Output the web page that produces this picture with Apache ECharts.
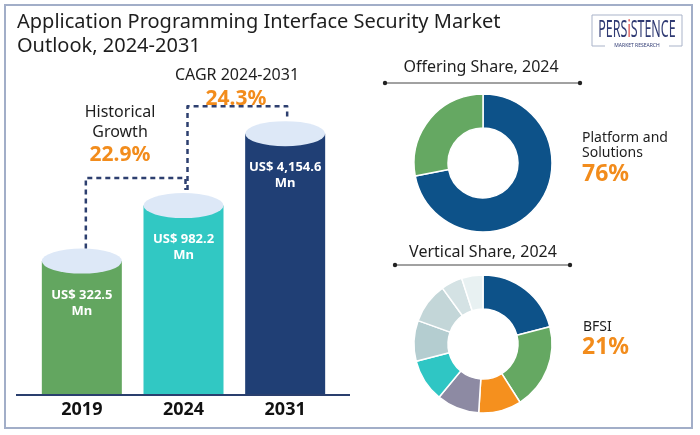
<!DOCTYPE html>
<html>
<head>
<meta charset="utf-8">
<script src="https://cdn.jsdelivr.net/npm/echarts@6/dist/echarts.min.js"></script>
<style>html,body{margin:0;padding:0;background:#fff;}#c{width:700px;height:435px;}</style>
</head>
<body>
<div id="c"></div>
<script>
// ---- data ----
const years = ['2019', '2024', '2031'];
const marketValues = [322.5, 982.2, 4154.6];
const valueLabels = ['US$ 322.5\nMn', 'US$ 982.2\nMn', 'US$ 4,154.6\nMn'];
const barColors = ['#63a660', '#31c8c3', '#203f75'];
const historicalGrowth = '22.9%';
const cagr = '24.3%';
const offeringNames = ['Platform and Solutions', 'Services'];
const offeringShares = [72, 28];
const offeringColors = ['#0d5289', '#65a862'];
const offeringHighlight = ['Platform and', 'Solutions', '76%'];
const verticalNames = ['BFSI', 'IT and Telecom', 'Retail', 'Healthcare', 'Government', 'Manufacturing', 'Energy', 'Education', 'Others'];
const verticalShares = [21, 20, 10, 10, 10, 9.5, 9.5, 5, 5];
const verticalColors = ['#0d5289', '#65a862', '#f5901e', '#8d8aa3', '#2fc6c4', '#b4cdd0', '#c3d6d8', '#d4e2e4', '#e8f1f2'];
const verticalHighlight = ['BFSI', '21%'];

const FONT = "'Noto Sans', sans-serif";
const ORANGE = '#f28c1c';
const NAVY = '#2d3f6f';

const chart = echarts.init(document.getElementById('c'), null, {renderer: 'canvas'});

function txt(x, y, text, size, opts) {
  opts = opts || {};
  return {
    type: 'text', x: x, y: y, z: 10,
    style: {
      text: text,
      font: (opts.weight || 'normal') + ' ' + size + 'px ' + (opts.family || FONT),
      fill: opts.color || '#1e1e1e',
      textAlign: opts.align || 'left',
      textVerticalAlign: 'middle'
    }
  };
}

const ellipsePath = 'path://M0,50 A50,50 0 1,1 100,50 A50,50 0 1,1 0,50 Z';

const staticGraphics = [
  {type: 'rect', shape: {x: 5, y: 5, width: 687, height: 423}, style: {fill: 'none', stroke: '#a2aec8', lineWidth: 2}, z: 1},
  txt(17, 22, 'Application Programming Interface Security Market', 20),
  txt(17, 46, 'Outlook, 2024-2031', 20),
  // logo
  {type: 'polyline', shape: {points: [[605, 46], [592, 46], [592, 15], [682, 15], [682, 46], [669, 46]]}, style: {fill: 'none', stroke: '#a9b3c9', lineWidth: 1}, z: 10},
  {type: 'group', x: 637, y: 30, scaleX: 0.52, z: 10, children: [
    {type: 'text', x: 0, y: 0, z: 10,
      style: {text: '{a|PERS}{b|i}{a|STENCE}', textAlign: 'center', textVerticalAlign: 'middle',
        rich: {a: {fontSize: 24, fontFamily: FONT, fill: '#2f3a73'}, b: {fontSize: 24, fontFamily: FONT, fill: '#d93a34'}}}}
  ]},
  txt(637, 46, 'MARKET RESEARCH', 5, {align: 'center', color: '#2f3a73'}),
  // annotations
  txt(120, 112, 'Historical', 16, {align: 'center'}),
  txt(120, 132, 'Growth', 16, {align: 'center'}),
  txt(120, 155, historicalGrowth, 21, {align: 'center', weight: 'bold', color: ORANGE}),
  txt(237, 75, 'CAGR 2024-2031', 16, {align: 'center'}),
  txt(236, 99, cagr, 21, {align: 'center', weight: 'bold', color: ORANGE}),
  // axis baseline
  {type: 'line', shape: {x1: 16, y1: 395, x2: 350, y2: 395}, style: {stroke: '#2a3f6e', lineWidth: 2}, z: 5},
  // section headers
  txt(481, 67, 'Offering Share, 2024', 16, {align: 'center'}),
  {type: 'line', shape: {x1: 385, y1: 83, x2: 580, y2: 83}, style: {stroke: '#444', lineWidth: 1}, z: 5},
  {type: 'circle', shape: {cx: 385, cy: 83, r: 2.2}, style: {fill: '#222'}, z: 5},
  {type: 'circle', shape: {cx: 580, cy: 83, r: 2.2}, style: {fill: '#222'}, z: 5},
  txt(483, 252, 'Vertical Share, 2024', 16, {align: 'center'}),
  {type: 'line', shape: {x1: 395, y1: 265, x2: 570, y2: 265}, style: {stroke: '#444', lineWidth: 1}, z: 5},
  {type: 'circle', shape: {cx: 395, cy: 265, r: 2.2}, style: {fill: '#222'}, z: 5},
  {type: 'circle', shape: {cx: 570, cy: 265, r: 2.2}, style: {fill: '#222'}, z: 5},
  // highlights
  txt(582, 138, offeringHighlight[0], 14),
  txt(582, 153, offeringHighlight[1], 14),
  txt(582, 174, offeringHighlight[2], 23, {weight: 'bold', color: ORANGE}),
  txt(583, 327, verticalHighlight[0], 14),
  txt(582, 347, verticalHighlight[1], 23, {weight: 'bold', color: ORANGE})
];

const option = {
  animation: false,
  backgroundColor: '#ffffff',
  grid: {left: 31, right: 364, top: 101, bottom: 40},
  xAxis: {
    type: 'category', data: years,
    axisLine: {show: false}, axisTick: {show: false},
    axisLabel: {fontFamily: FONT, fontWeight: 'bold', fontSize: 18, color: '#111', margin: 6}
  },
  yAxis: {type: 'log', logBase: 10, min: 22, max: 8000, show: false, splitLine: {show: false}},
  series: [
    {
      type: 'bar', barWidth: 80, z: 2,
      data: marketValues.map((v, i) => ({value: v, itemStyle: {color: barColors[i]},
        label: {formatter: valueLabels[i]}})),
      label: {show: true, position: 'insideTop', distance: 26, color: '#fff', fontFamily: FONT,
        fontWeight: 'bold', fontSize: 13, lineHeight: 16, align: 'center'}
    },
    {
      type: 'scatter', z: 3, symbol: ellipsePath, symbolKeepAspect: false, symbolSize: [80, 25],
      itemStyle: {color: '#dde8f7', opacity: 1},
      data: marketValues, silent: true
    },
    {
      type: 'pie', center: [483, 163], radius: [35, 69], startAngle: 90, clockwise: true,
      label: {show: false}, labelLine: {show: false}, silent: true,
      itemStyle: {borderColor: '#fff', borderWidth: 1.5},
      data: offeringShares.map((v, i) => ({name: offeringNames[i], value: v, itemStyle: {color: offeringColors[i]}}))
    },
    {
      type: 'pie', center: [483, 344], radius: [35, 69], startAngle: 90, clockwise: true,
      label: {show: false}, labelLine: {show: false}, silent: true,
      itemStyle: {borderColor: '#fff', borderWidth: 1.5},
      data: verticalShares.map((v, i) => ({name: verticalNames[i], value: v, itemStyle: {color: verticalColors[i]}}))
    }
  ],
  graphic: staticGraphics
};
chart.setOption(option);

// dashed connectors computed from the chart's own scales
const tops = marketValues.map((v, i) => {
  const p = chart.convertToPixel({gridIndex: 0}, [i, v]);
  return [p[0], p[1] - 12.5];
});
const connectors = [];
for (let i = 0; i < tops.length - 1; i++) {
  const a = tops[i], b = tops[i + 1];
  const startY = i === 0 ? a[1] : a[1] - 3;
  const hy = b[1] - 15;
  connectors.push({
    type: 'polyline', id: 'conn' + i, z: 6,
    shape: {points: [[a[0] + 4, startY], [a[0] + 4, hy], [b[0] + 2, hy], [b[0] + 2, b[1] - 3]]},
    style: {fill: 'none', stroke: NAVY, lineWidth: 2.5, lineDash: [5, 4], lineJoin: 'round'}
  });
}
chart.setOption({graphic: connectors});
</script>
</body>
</html>
